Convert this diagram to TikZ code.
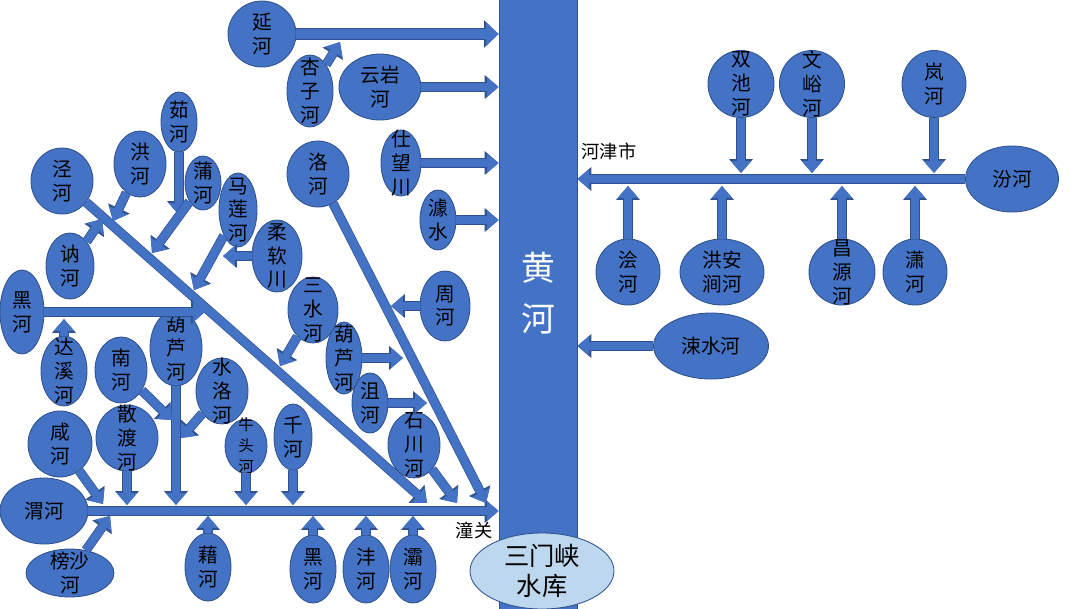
\documentclass[tikz,border=0pt]{standalone}
\usepackage{fontspec}
\newfontfamily\zh{Noto Sans CJK SC}
\usetikzlibrary{shapes.geometric,arrows.meta,positioning}
\definecolor{rvblue}{RGB}{68,114,196}
\definecolor{rvedge}{RGB}{47,82,143}
\definecolor{lakeblue}{RGB}{189,215,238}
\newcommand{\pxu}{0.025cm}

\begin{document}
\begin{tikzpicture}[x=0.025cm, y=-0.025cm,
  rv/.style 2 args={ellipse, draw=rvedge, fill=rvblue, line width=0.6pt,
    minimum width=#1*\pxu, minimum height=#2*\pxu, inner sep=0pt},
  nm/.style={align=center, inner sep=0pt, font=\zh\fontsize{14}{17}\selectfont},
  flow/.style={draw=rvblue, line width=5.8pt, -{Triangle[width=0pt 2.4, length=0pt 1.45]},
    preaction={draw=rvedge, line width=6.8pt, -{Triangle[width=0pt 2.4, length=0pt 1.45]}}},
  bigflow/.style={draw=rvblue, line width=7.6pt, -{Triangle[width=0pt 2.2, length=0pt 1.2]},
    preaction={draw=rvedge, line width=8.6pt, -{Triangle[width=0pt 2.2, length=0pt 1.2]}}},
  town/.style={inner sep=0pt, font=\zh\fontsize{13}{15}\selectfont}]
  \useasboundingbox (0,0) rectangle (1080,608);

  % Huanghe and reservoir
  \node[draw=rvedge, fill=rvblue, line width=0.6pt, minimum width=78*\pxu,
    minimum height=610*\pxu, inner sep=0pt] (hh) at (538,304) {};
  \node[align=center, text=white, font=\zh\fontsize{24}{36}\selectfont] (hhname) at (538,293) {黄\\河};
  \node[rv={144}{76}, fill=lakeblue,
    label={[nm, font=\zh\fontsize{18}{21}\selectfont]center:{三门峡\\水库}}] (smx) at (542,571) {};

  % northern Shaanxi rivers
  \node[rv={68}{66}, label={[nm]center:{延\\河}}] (yan) at (262,34) {};
  \node[rv={46}{72}, label={[nm]center:{杏\\子\\河}}] (xingzi) at (310,91) {};
  \node[rv={82}{66}, label={[nm]center:{云岩\\河}}] (yunyan) at (380,87) {};
  \node[rv={40}{66}, label={[nm]center:{仕\\望\\川}}] (shiwang) at (401,163) {};
  \node[rv={36}{60}, label={[nm]center:{澽\\水}}] (ju) at (438,220) {};
  \node[rv={62}{66}, label={[nm]center:{洛\\河}}] (luo) at (318,174) {};
  \node[rv={50}{70}, label={[nm]center:{周\\河}}] (zhou) at (445,306) {};

  % Jing river system
  \node[rv={62}{66}, label={[nm]center:{泾\\河}}] (jing) at (62,181) {};
  \node[rv={52}{66}, label={[nm]center:{洪\\河}}] (hong) at (140,164) {};
  \node[rv={48}{66}, label={[nm]center:{讷\\河}}] (ne) at (70,266) {};
  \node[rv={36}{60}, label={[nm]center:{茹\\河}}] (ru) at (179,122) {};
  \node[rv={36}{54}, label={[nm]center:{蒲\\河}}] (pu) at (203,183) {};
  \node[rv={38}{74}, label={[nm]center:{马\\莲\\河}}] (malian) at (238,210) {};
  \node[rv={50}{72}, label={[nm]center:{柔\\软\\川}}] (rouruan) at (277,256) {};
  \node[rv={44}{84}, label={[nm]center:{黑\\河}}] (heiw) at (22,312) {};
  \node[rv={46}{70}, label={[nm]center:{达\\溪\\河}}] (daxi) at (64,371) {};
  \node[rv={50}{66}, label={[nm]center:{三\\水\\河}}] (sanshui) at (313,310) {};

  % Luo river tributaries
  \node[rv={36}{72}, label={[nm]center:{葫\\芦\\河}}] (hulue) at (344,358) {};
  \node[rv={36}{60}, label={[nm]center:{沮\\河}}] (jv) at (370,403) {};
  \node[rv={52}{66}, label={[nm]center:{石\\川\\河}}] (shichuan) at (414,445) {};

  % Wei river system
  \node[rv={52}{76}, label={[nm]center:{葫\\芦\\河}}] (hulu) at (176,348) {};
  \node[rv={52}{66}, label={[nm]center:{南\\河}}] (nan) at (121,370) {};
  \node[rv={52}{66}, label={[nm]center:{水\\洛\\河}}] (shuiluo) at (222,391) {};
  \node[rv={62}{66}, label={[nm]center:{散\\渡\\河}}] (sandu) at (127,438) {};
  \node[rv={42}{54}, label={[nm, font=\zh\fontsize{11}{15}\selectfont]center:{牛\\头\\河}}] (niutou) at (246,446) {};
  \node[rv={38}{66}, label={[nm]center:{千\\河}}] (qian) at (293,437) {};
  \node[rv={64}{66}, label={[nm]center:{咸\\河}}] (xian) at (60,444) {};
  \node[rv={88}{66}, label={[nm]center:{渭河}}] (wei) at (44,511) {};
  \node[rv={88}{48}, label={[nm]center:{榜沙\\河}}] (bangsha) at (70,573) {};
  \node[rv={46}{68}, label={[nm]center:{藉\\河}}] (jie) at (208,567) {};
  \node[rv={46}{68}, label={[nm]center:{黑\\河}}] (heib) at (313,569) {};
  \node[rv={46}{68}, label={[nm]center:{沣\\河}}] (feng) at (366,569) {};
  \node[rv={46}{68}, label={[nm]center:{灞\\河}}] (ba) at (413,569) {};
  \node[town] (tongguan) at (474,530) {潼关};

  % Fen river system
  \node[rv={93}{66}, label={[nm]center:{汾河}}] (fen) at (1012,179) {};
  \node[rv={66}{67}, label={[nm]center:{双\\池\\河}}] (shuangchi) at (741,84) {};
  \node[rv={65}{67}, label={[nm]center:{文\\峪\\河}}] (wenyu) at (812,84) {};
  \node[rv={64}{67}, label={[nm]center:{岚\\河}}] (lan) at (934,84) {};
  \node[rv={64}{66}, label={[nm]center:{浍\\河}}] (hui) at (628,272) {};
  \node[rv={84}{66}, label={[nm]center:{洪安\\涧河}}] (hongan) at (722,272) {};
  \node[rv={66}{66}, label={[nm]center:{昌\\源\\河}}] (changyuan) at (842,272) {};
  \node[rv={64}{66}, label={[nm]center:{潇\\河}}] (xiao) at (915,272) {};
  \node[rv={115}{66}, label={[nm]center:{涑水河}}] (su) at (711,346) {};
  \node[town] (hejin) at (609,151) {河津市};

  % junction points
  \coordinate (xz-in) at (340,42);
  \coordinate (luo-end) at (486,503);
  \coordinate (zhou-in) at (391,306);
  \coordinate (jing-end) at (427,503);
  \coordinate (hong-in) at (113,221);
  \coordinate (ne-in) at (102,219);
  \coordinate (ru-in) at (179,215);
  \coordinate (pu-in) at (152,253);
  \coordinate (ml-in) at (194,290);
  \coordinate (rr-in) at (223,256);
  \coordinate (hw-in) at (205,312);
  \coordinate (dx-in) at (64,319);
  \coordinate (ss-in) at (280,366);
  \coordinate (hl-in) at (403,358);
  \coordinate (jv-in) at (427,403);
  \coordinate (sc-in) at (457,503);
  \coordinate (nan-in) at (172,420);
  \coordinate (sl-in) at (181,438);
  \coordinate (xian-in) at (103,504);
  \coordinate (bs-in) at (110,516);
  \coordinate (wtop) at (0,505);
  \coordinate (wbot) at (0,516);
  \coordinate (ftop) at (0,173);
  \coordinate (fbot) at (0,186);

  % into the Huanghe
  \draw[bigflow] (yan.east) -- (yan.east -| hh.west);
  \draw[flow] (yunyan.east) -- (yunyan.east -| hh.west);
  \draw[flow] (shiwang.east) -- (shiwang.east -| hh.west);
  \draw[flow] (ju.east) -- (ju.east -| hh.west);
  \draw[flow] (wei.east) -- (wei.east -| hh.west);
  \draw[flow] (fen.west) -- (fen.west -| hh.east);
  \draw[flow] (su.west) -- (su.west -| hh.east);
  \draw[flow] (luo) -- (luo-end);
  \draw[flow] (jing) -- (jing-end);
  \draw[flow] (heiw) -- (hw-in);

  % tributaries
  \draw[flow] (xingzi) -- (xz-in);
  \draw[flow] (zhou) -- (zhou-in);
  \draw[flow] (hong) -- (hong-in);
  \draw[flow] (ne) -- (ne-in);
  \draw[flow] (ru) -- (ru-in);
  \draw[flow] (pu) -- (pu-in);
  \draw[flow] (malian) -- (ml-in);
  \draw[flow] (rouruan) -- (rr-in);
  \draw[flow] (daxi) -- (dx-in);
  \draw[flow] (sanshui) -- (ss-in);
  \draw[flow] (hulue) -- (hl-in);
  \draw[flow] (jv) -- (jv-in);
  \draw[flow] (shichuan) -- (sc-in);
  \draw[flow] (hulu) -- (hulu |- wtop);
  \draw[flow] (nan) -- (nan-in);
  \draw[flow] (shuiluo) -- (sl-in);
  \draw[flow] (sandu) -- (sandu |- wtop);
  \draw[flow] (niutou) -- (niutou |- wtop);
  \draw[flow] (qian) -- (qian |- wtop);
  \draw[flow] (xian) -- (xian-in);
  \draw[flow] (bangsha) -- (bs-in);
  \foreach \r in {jie,heib,feng,ba}
    \draw[flow] (\r) -- (\r |- wbot);
  \foreach \r in {shuangchi,wenyu,lan}
    \draw[flow] (\r) -- (\r |- ftop);
  \foreach \r in {hui,hongan,changyuan,xiao}
    \draw[flow] (\r) -- (\r |- fbot);
\end{tikzpicture}
\end{document}
